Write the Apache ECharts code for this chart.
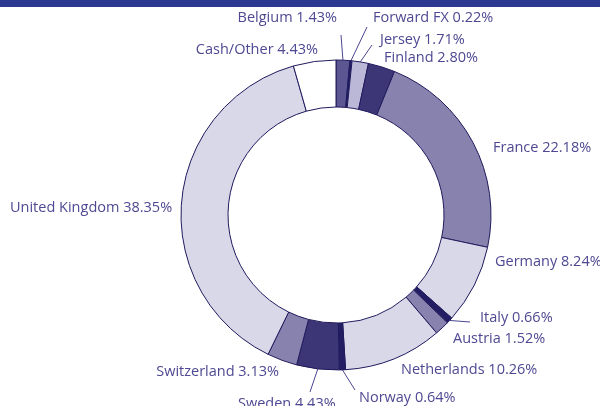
<!DOCTYPE html>
<html>
<head>
<meta charset="utf-8">
<script src="https://cdn.jsdelivr.net/npm/echarts@6/dist/echarts.min.js"></script>
<style>
  html, body { margin: 0; padding: 0; background: #fff; }
  #chart { width: 600px; height: 406px; }
</style>
</head>
<body>
<div id="chart"></div>
<script>
// allocation, clockwise from 12 o'clock
const names = ['Belgium', 'Forward FX', 'Jersey', 'Finland', 'France', 'Germany', 'Italy',
  'Austria', 'Netherlands', 'Norway', 'Sweden', 'Switzerland', 'United Kingdom', 'Cash/Other']
const weights = [1.43, 0.22, 1.71, 2.80, 22.18, 8.24, 0.66, 1.52, 10.26, 0.64, 4.43, 3.13, 38.35, 4.43]
const fills = ['#5c5793', '#231d63', '#bab7d7', '#3d3676', '#8882ae', '#d9d8e9', '#231d63',
  '#8882ae', '#d9d8e9', '#231d63', '#3d3676', '#8882ae', '#d9d8e9', '#ffffff']

// label placement: [x, y, align, leader line end or null]
const labelPos = [
  [337, 18, 'right', [341, 35]],
  [373, 18, 'left', [367, 27]],
  [380, 40, 'left', [372, 45]],
  [384, 58, 'left', null],
  [493, 148, 'left', null],
  [495, 262, 'left', null],
  [480, 318, 'left', [470, 322]],
  [453, 339, 'left', null],
  [401, 370, 'left', null],
  [359, 398, 'left', [355, 390]],
  [238, 404, 'left', [310, 392]],
  [279, 372, 'right', null],
  [10, 208, 'left', null],
  [318, 50, 'right', null]
]

const cx = 336, cy = 215, rIn = 108, rOut = 155
const total = weights.reduce((a, b) => a + b, 0)
const midPoint = i => {
  const before = weights.slice(0, i).reduce((a, b) => a + b, 0)
  const ang = (90 - 360 * (before + weights[i] / 2) / total) * Math.PI / 180
  return [cx + rOut * Math.cos(ang), cy - rOut * Math.sin(ang)]
}

const chart = echarts.init(document.getElementById('chart'))

chart.setOption({
  animation: false,
  graphic: [{
    type: 'rect',
    left: 0, top: 0,
    shape: { width: 600, height: 7 },
    style: { fill: '#2b3990' }
  }],
  series: [{
    type: 'pie',
    center: [cx, cy],
    radius: [rIn, rOut],
    startAngle: 90,
    clockwise: true,
    avoidLabelOverlap: false,
    itemStyle: { borderColor: '#1f1a5c', borderWidth: 1 },
    label: {
      show: true,
      position: 'outside',
      color: '#4e4992',
      fontFamily: 'Open Sans',
      fontSize: 14.5,
      formatter: p => p.name + ' ' + p.value.toFixed(2) + '%'
    },
    labelLine: { show: true, length: 10, length2: 10, lineStyle: { color: '#4a4590', width: 1 } },
    labelLayout: params => {
      const lp = labelPos[params.dataIndex]
      const out = { x: lp[0], y: lp[1], align: lp[2], verticalAlign: 'middle' }
      if (lp[3]) out.labelLinePoints = [midPoint(params.dataIndex), lp[3]]
      else out.labelLinePoints = [[0, 0], [0, 0]]
      return out
    },
    emphasis: { disabled: true },
    data: names.map((n, i) => ({
      name: n,
      value: weights[i],
      itemStyle: { color: fills[i] },
      labelLine: { show: !!labelPos[i][3] }
    }))
  }]
})
</script>
</body>
</html>
